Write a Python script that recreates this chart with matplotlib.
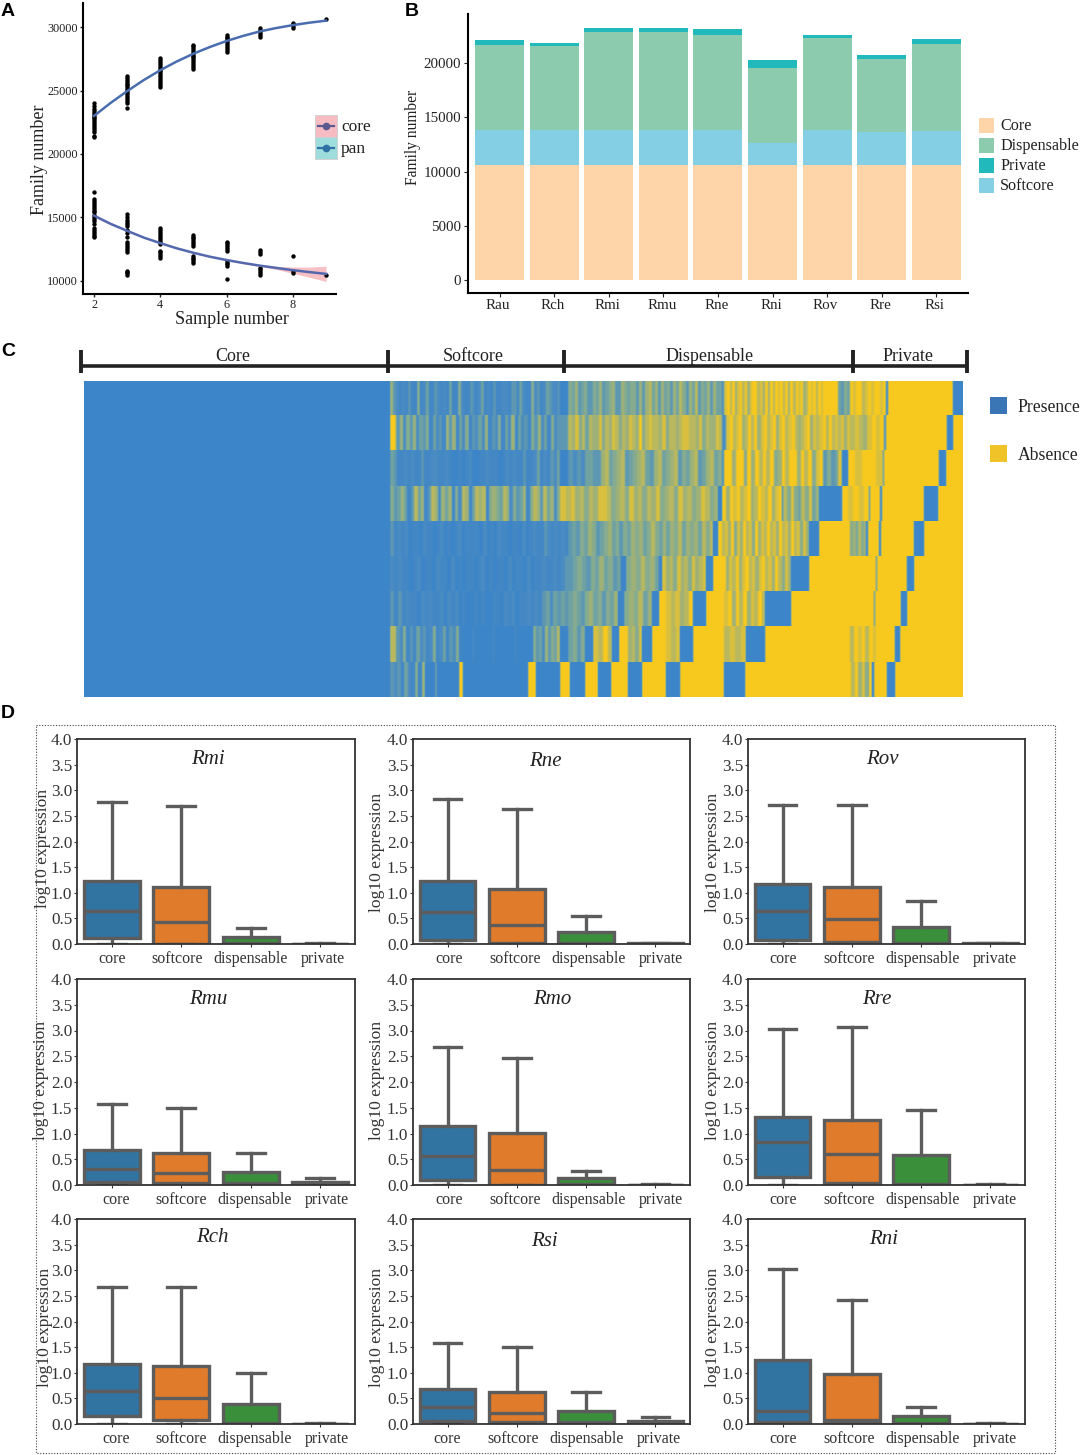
from matplotlib import pyplot as plt
from matplotlib.colors import LinearSegmentedColormap
from matplotlib.patches import Rectangle
from matplotlib.transforms import ScaledTranslation
import numpy as np

plt.rcParams['font.family'] = ['Liberation Serif', 'DejaVu Serif']

W, H = 1080, 1455

# panel A
pan_x = [2, 3, 4, 5, 6, 7, 8, 9]
pan_pts = [
    [21300, 21450, 21700, 21900, 22050, 22200, 22350, 22500, 22650, 22800, 22950, 23100, 23250, 23400, 23550, 23800, 24000],
    [23650, 24050, 24200, 24350, 24500, 24650, 24800, 24950, 25100, 25250, 25400, 25550, 25700, 25850, 26000, 26150],
    [25300, 25450, 25600, 25750, 25900, 26050, 26200, 26350, 26500, 26650, 26800, 26950, 27100, 27250, 27400, 27550],
    [26700, 26850, 27000, 27150, 27300, 27450, 27600, 27750, 27900, 28050, 28200, 28350, 28500, 28600],
    [28050, 28200, 28350, 28500, 28650, 28800, 28950, 29100, 29250, 29350],
    [29200, 29350, 29500, 29650, 29800, 29950],
    [29950, 30100, 30250, 30350],
    [30650],
]
core_pts = [
    [13450, 13550, 13700, 13850, 14000, 14150, 14450, 14700, 14900, 15050, 15200, 15400, 15550, 15700, 15850, 16000, 16150, 16300, 16450, 17000],
    [10500, 10600, 10700, 10800, 12300, 12450, 12600, 12750, 12900, 13100, 13500, 13800, 14000, 14300, 14500, 14650, 14800, 15000, 15250],
    [11800, 11950, 12100, 12250, 12400, 12900, 13100, 13250, 13400, 13550, 13700, 13850, 14000, 14150],
    [11400, 11550, 11700, 11850, 12000, 12750, 12900, 13050, 13200, 13350, 13500, 13600],
    [10150, 11150, 11300, 11450, 11600, 12400, 12550, 12700, 12850, 13000, 13100],
    [10500, 10650, 10800, 10950, 11050, 12150, 12300, 12450],
    [10650, 10800, 11950],
    [10450],
]
curve_x = [2, 2.5, 3, 3.5, 4, 4.5, 5, 5.5, 6, 6.5, 7, 7.5, 8, 8.5, 9]
pan_curve = [23000, 24020, 24950, 25820, 26600, 27290, 27900, 28430, 28900, 29300, 29650, 29920, 30150, 30340, 30500]
core_curve = [15150, 14500, 13950, 13420, 12980, 12570, 12220, 11910, 11650, 11420, 11210, 11030, 10850, 10700, 10560]
core_band = [120, 60, 40, 40, 40, 40, 40, 40, 50, 60, 70, 120, 250, 400, 600]

# panel B
species = ['Rau', 'Rch', 'Rmi', 'Rmu', 'Rne', 'Rni', 'Rov', 'Rre', 'Rsi']
core_n = [10600, 10600, 10600, 10600, 10600, 10600, 10600, 10600, 10600]
softcore_n = [3200, 3200, 3200, 3200, 3200, 2050, 3200, 3000, 3100]
dispensable_n = [7900, 7800, 9060, 9060, 8800, 6890, 8500, 6770, 8050]
private_n = [400, 250, 340, 340, 500, 740, 280, 370, 450]

# panel C: each row is (end column, digits), digits 0 = presence, 9 = absence, between = blurred mix
heat_total = 879
heat_groups = [('Core', 304, 233), ('Softcore', 480, 473), ('Dispensable', 769, 710), ('Private', 883, 908)]
heat_rows = [
    [(306, '0'), (476, '6321213115124113212141152113212412131122133142115231243223'), (484, '0'),
     (638, '54634533546345633654553636746364536475364735463644'), (640, '2'),
     (739, '897968979689978696979897969798967989798'), (754, '9'), (766, '4354'),
     (802, '989978989989'), (804, '1'), (869, '9'), (879, '0')],
    [(306, '0'), (312, '9'), (476, '36253624351423163614251324261325142614231536241523'), (484, '3'),
     (638, '7685747668576875768769578776857767887768576687'), (642, '2'),
     (766, '8978967979689789689789767896878979787868'), (800, '78768989'), (802, '2'), (863, '9'), (869, '0'), (879, '9')],
    [(306, '0'), (476, '43112121131122112100101200112111012121131124121324'), (484, '0'),
     (638, '32324433674567345674367456735467346745'), (640, '2'),
     (739, '99699596979795697996979589'), (754, '3534'), (758, '8'), (764, '0'), (799, '98998'), (800, '2'),
     (855, '9'), (862, '0'), (879, '9')],
    [(306, '0'), (476, '53464137461376264615276147671565476253461576374625'), (482, '8'),
     (634, '7867576887567586757685675867568756'), (638, '0'),
     (698, '96989789679879689'), (699, '0'), (735, '7585475846'), (758, '0'), (785, '98989'), (786, '1'),
     (796, '9'), (798, '1'), (840, '9'), (854, '0'), (879, '9')],
    [(306, '0'), (484, '31212011021101201012011110201021101102012113212121'),
     (629, '3435465345645354656457546465746564757'), (634, '0'),
     (725, '978695869785968797869786978586'), (735, '0'), (766, '9'), (782, '564756'), (784, '1'),
     (795, '9'), (797, '1'), (830, '9'), (840, '0'), (879, '9')],
    [(306, '0'), (484, '21211012011021102010110120101102011020112112123'),
     (537, '345435464534'), (542, '0'), (575, '5657564'), (578, '0'), (622, '867586758678'), (629, '0'),
     (638, '9'), (707, '968796897868978697586'), (725, '0'), (792, '9'), (793, '2'), (823, '9'), (830, '0'), (879, '9')],
    [(306, '0'), (484, '31312110212112021201001010011021201121213424343'),
     (534, '454356453546'), (540, '0'), (568, '565746'), (575, '0'), (582, '9'), (609, '878679'), (622, '0'),
     (640, '9'), (681, '89697968797'), (707, '0'), (790, '9'), (791, '2'), (817, '9'), (823, '0'), (879, '9')],
    [(306, '0'), (312, '7'), (378, '32513142312512413251'), (449, '0001000001000000100000'),
     (473, '53426354'), (476, '7'), (484, '0'), (501, '4535'), (509, '0'), (528, '8797'), (535, '0'), (544, '9'),
     (558, '6758'), (568, '0'), (582, '9'), (596, '878'), (609, '0'), (640, '9'), (662, '7878'), (681, '0'),
     (766, '9'), (792, '7989798'), (811, '9'), (816, '0'), (879, '9')],
    [(306, '0'), (341, '3231421516'), (351, '0'), (353, '4'), (375, '0'), (379, '9'), (444, '0'), (452, '9'),
     (476, '0'), (486, '9'), (501, '0'), (514, '9'), (527, '0'), (544, '9'), (558, '0'), (582, '9'), (596, '0'),
     (640, '9'), (661, '0'), (767, '9'), (788, '796859'), (790, '0'), (803, '9'), (811, '0'), (879, '9')],
]

# panel D: whislo, q1, median, q3, whishi for core, softcore, dispensable, private
box_cats = ['core', 'softcore', 'dispensable', 'private']
panel_names = ['Rmi', 'Rne', 'Rov', 'Rmu', 'Rmo', 'Rre', 'Rch', 'Rsi', 'Rni']
rmi_box = [[0, .12, .65, 1.22, 2.78], [0, 0, .42, 1.12, 2.69], [0, 0, .02, .13, .31], [0, 0, 0, .005, .01]]
rne_box = [[0, .07, .62, 1.22, 2.82], [0, .02, .38, 1.08, 2.63], [0, 0, .02, .24, .55], [0, 0, 0, .01, .02]]
rov_box = [[0, .08, .65, 1.18, 2.72], [0, .03, .48, 1.12, 2.72], [0, 0, .02, .34, .83], [0, 0, 0, .01, .02]]
rmu_box = [[0, .05, .32, .68, 1.58], [0, .03, .23, .62, 1.50], [0, 0, .03, .25, .62], [0, 0, .01, .05, .13]]
rmo_box = [[0, .10, .57, 1.14, 2.68], [0, 0, .30, 1.01, 2.46], [0, 0, .02, .13, .28], [0, 0, 0, .005, .01]]
rre_box = [[0, .15, .83, 1.33, 3.03], [0, .03, .60, 1.27, 3.07], [0, 0, .02, .58, 1.45], [0, 0, 0, .005, .01]]
rch_box = [[0, .15, .65, 1.18, 2.68], [0, .08, .50, 1.13, 2.68], [0, 0, .02, .40, 1.00], [0, 0, 0, .005, .01]]
rsi_box = [[0, .05, .33, .69, 1.58], [0, .03, .22, .62, 1.50], [0, 0, .03, .25, .62], [0, 0, .01, .06, .13]]
rni_box = [[0, .04, .25, 1.25, 3.03], [0, .02, .08, .98, 2.41], [0, 0, .02, .15, .33], [0, 0, 0, .005, .01]]
panel_boxes = [rmi_box, rne_box, rov_box, rmu_box, rmo_box, rre_box, rch_box, rsi_box, rni_box]

fig = plt.figure(figsize=(W / 100, H / 100), dpi=100)


def px_axes(left, top, right, bottom, **kw):
    """Axes placed by pixel box of the reference."""
    return fig.add_axes([left / W, 1 - bottom / H, (right - left) / W, (bottom - top) / H], **kw)


# overlay in pixel coords for letters, legends and brackets
over = fig.add_axes([0, 0, 1, 1], zorder=5)
over.set_xlim(0, W)
over.set_ylim(H, 0)
over.axis('off')

for letter, lx, ly in [('A', 1, 12), ('B', 405, 11), ('C', 1, 351), ('D', 1, 714)]:
    over.text(lx, ly, letter, family=['Liberation Sans'], fontweight='bold', fontsize=14, va='center')

# ---- A
ax = px_axes(83, 3, 336, 294)
ax.set_xlim(1.668, 9.30)
ax.set_ylim(8976, 31890)
ax.fill_between(curve_x, np.array(core_curve) - core_band, np.array(core_curve) + core_band,
                color='#f4a6ac', alpha=0.7, lw=0, zorder=1)
for xv, pts, cts in zip(pan_x, pan_pts, core_pts):
    ax.scatter([xv] * len(pts), pts, s=10, color='black', lw=0, zorder=2)
    ax.scatter([xv] * len(cts), cts, s=10, color='black', lw=0, zorder=2)
ax.plot(curve_x, pan_curve, color='#4a6db0', lw=1.8, zorder=3)
ax.plot(curve_x, core_curve, color='#5468ad', lw=1.8, zorder=3)
for side in ['top', 'right']:
    ax.spines[side].set_visible(False)
for side in ['left', 'bottom']:
    ax.spines[side].set_linewidth(1.5)
ax.set_xticks([2, 4, 6, 8])
ax.set_yticks([10000, 15000, 20000, 25000, 30000])
ax.tick_params(labelsize=8.8, length=2.5, width=1, pad=1, colors='#222222')
over.text(232, 320, 'Sample number', fontsize=13, ha='center', va='center', color='#222222')
over.text(39, 160, 'Family number', fontsize=13, rotation=90, ha='center', va='center', color='#222222')

over.add_patch(Rectangle((315, 115), 22, 22, fc='#f6bcc2', ec='#cfcfcf', lw=0.6))
over.add_patch(Rectangle((315, 137), 22, 22, fc='#9fdcdc', ec='#cfcfcf', lw=0.6))
over.plot([318, 334], [126, 126], color='#5a5a90', lw=1.6)
over.plot([326], [126], 'o', color='#5a5a90', ms=4.5)
over.plot([318, 334], [148, 148], color='#2f70a5', lw=1.6)
over.plot([326], [148], 'o', color='#2f70a5', ms=4.5)
over.text(341, 127, 'core', fontsize=12.5, va='center', color='#222222')
over.text(341, 149, 'pan', fontsize=12.5, va='center', color='#222222')

# ---- B
ax = px_axes(468, 14, 968, 293)
ax.set_xlim(-0.577, 8.58)
ax.set_ylim(-1200, 24520)
xs = np.arange(len(species))
stack_cols = ['#fdd5a8', '#85cfe4', '#8ccbae', '#22b9bd']
bottom = np.zeros(len(species))
for vals, col in zip([core_n, softcore_n, dispensable_n, private_n], stack_cols):
    ax.bar(xs, vals, 0.9, bottom=bottom, color=col, lw=0)
    bottom += np.array(vals)
for side in ['top', 'right']:
    ax.spines[side].set_visible(False)
for side in ['left', 'bottom']:
    ax.spines[side].set_linewidth(1.5)
ax.set_xticks(xs)
ax.set_xticklabels(species)
ax.set_yticks([0, 5000, 10000, 15000, 20000])
ax.tick_params(axis='y', labelsize=10.8, length=3, pad=2, colors='#222222')
ax.tick_params(axis='x', labelsize=10.8, length=3, pad=1.5, colors='#222222')
left_shift = ScaledTranslation(-1.5 / 100, 0, fig.dpi_scale_trans)
for lab in ax.get_xticklabels():
    lab.set_transform(lab.get_transform() + left_shift)
over.text(413, 137, 'Family number', fontsize=11.2, rotation=90, ha='center', va='center', color='#222222')

for label, col, ly in [('Core', '#fdd5a8', 125), ('Dispensable', '#8ccbae', 145),
                       ('Private', '#22b9bd', 165), ('Softcore', '#85cfe4', 185)]:
    over.add_patch(Rectangle((979, ly - 7.5), 15, 15, fc=col, lw=0))
    over.text(1000, ly + 1.5, label, fontsize=11.6, va='center', color='#222222')

# ---- C
heat = np.zeros((len(heat_rows), heat_total))
for i, segs in enumerate(heat_rows):
    start = 0
    for end, digits in segs:
        levels = np.array([int(c) for c in digits])
        idx = (np.arange(end - start) * len(levels) // (end - start))
        heat[i, start:end] = levels[idx]
        start = end
    # the reference is a downscaled bitmap, stripes bleed into each other
    heat[i] = np.convolve(np.pad(heat[i], 1, mode='edge'), [0.25, 0.5, 0.25], mode='valid')
heat_cmap = LinearSegmentedColormap.from_list(
    'pav', [(0, '#3d85c9'), (0.22, '#4a8cc2'), (0.5, '#7ba89a'), (0.78, '#b9b85f'), (1, '#f7c91e')])
ax = px_axes(84, 381, 963, 697)
ax.imshow(heat, aspect='auto', cmap=heat_cmap, vmin=0, vmax=9, interpolation='nearest')
ax.axis('off')

over.plot([81, 967], [366, 366], color='#222222', lw=2.6, solid_capstyle='butt')
over.plot([81, 81], [350, 373], color='#222222', lw=2.8, solid_capstyle='butt')
for name, edge, label_x in heat_groups:
    ex = 84 + edge
    over.plot([ex, ex], [350, 373], color='#222222', lw=2.8, solid_capstyle='butt')
    over.text(label_x, 356.5, name, fontsize=13, ha='center', va='center', color='#222222')

over.add_patch(Rectangle((990, 397), 17, 17, fc='#3a75b5', lw=0))
over.add_patch(Rectangle((990, 445), 17, 17, fc='#f0c428', lw=0))
over.text(1017.5, 407, 'Presence', fontsize=12.7, va='center', color='#222222')
over.text(1018, 455, 'Absence', fontsize=12.7, va='center', color='#222222')

# ---- D
over.add_patch(Rectangle((36, 725), 1019, 728, fc='none', ec='#444444', lw=0.8, ls=(0, (1, 1.5))))

col_edges = [(77, 355), (413, 690), (748, 1025)]
row_edges = [(739, 944), (979, 1185), (1219, 1424)]
title_px = [(208, 760), (545, 761), (882, 759), (208, 1000), (552, 999), (877, 1000), (212, 1237), (544, 1241), (884, 1240)]
ylabel_px = [(43, 848), (377, 852), (713, 852), (41, 1080), (377, 1080), (713, 1080), (45, 1327), (377, 1327), (713, 1327)]
label_shift = [0, 2, 1, 4, 2, 1, 4, 0, 1]
cat_shift = [0, -4, 0, 3]
box_cols = ['#3274a1', '#e07b2c', '#3a8f3a', '#c03d3e']

for k, (name, rows) in enumerate(zip(panel_names, panel_boxes)):
    l, r = col_edges[k % 3]
    t, b = row_edges[k // 3]
    ax = px_axes(l, t, r, b)
    stats = [dict(whislo=s[0], q1=s[1], med=s[2], q3=s[3], whishi=s[4], fliers=[]) for s in rows]
    line = dict(color='#5c5c5c', lw=2.4)
    art = ax.bxp(stats, positions=range(4), widths=0.8, patch_artist=True, showfliers=False,
                 boxprops=dict(edgecolor='#5c5c5c', lw=2.4), medianprops=line, whiskerprops=line, capprops=line)
    for patch, col in zip(art['boxes'], box_cols):
        patch.set_facecolor(col)
    ax.set_xlim(-0.5, 3.5)
    ax.set_ylim(0, 4)
    ax.set_xticks(range(4))
    ax.set_xticklabels(box_cats)
    ax.set_yticks(np.arange(0, 4.5, 0.5))
    ax.tick_params(axis='x', labelsize=11.5, length=2.5, pad=2.5, colors='#333333')
    ax.tick_params(axis='y', labelsize=12.3, length=2.5, pad=1, colors='#333333')
    for lab, extra in zip(ax.get_xticklabels(), cat_shift):
        shift = ScaledTranslation((label_shift[k] + extra) / 100, 0, fig.dpi_scale_trans)
        lab.set_transform(lab.get_transform() + shift)
    for side in ax.spines.values():
        side.set_linewidth(1.3)
        side.set_color('#333333')
    over.text(*title_px[k], name, fontsize=15, style='italic', ha='center', va='center', color='#222222')
    over.text(*ylabel_px[k], 'log10 expression', fontsize=12.6, rotation=90, ha='center', va='center', color='#333333')

fig.savefig('out.png', dpi=100)
